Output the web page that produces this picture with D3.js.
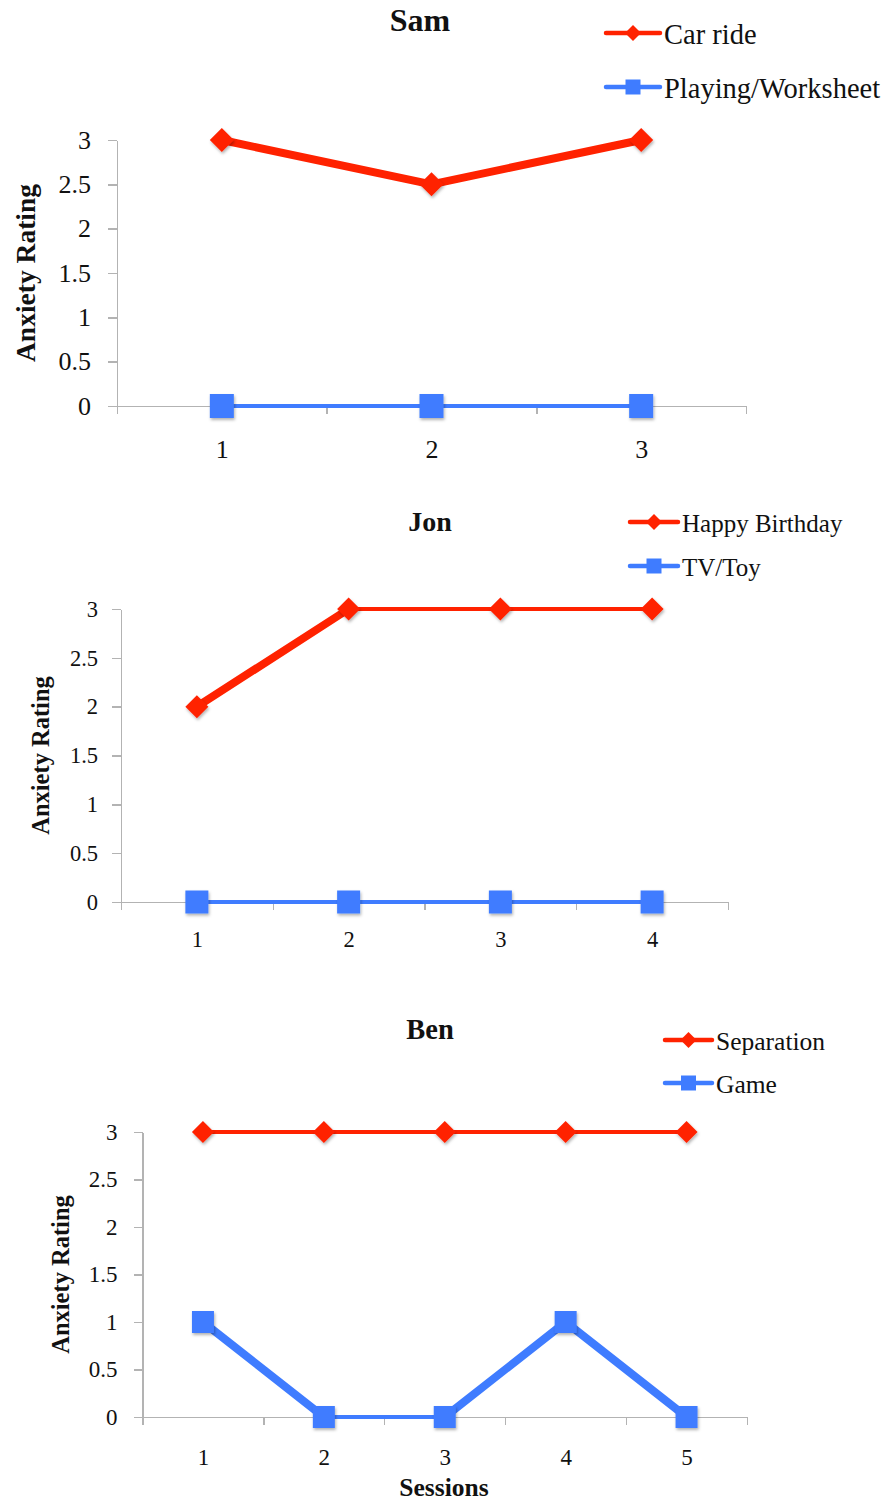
<!DOCTYPE html>
<html>
<head>
<meta charset="utf-8">
<script src="https://cdn.jsdelivr.net/npm/d3@7"></script>
<style>
  html, body { margin: 0; padding: 0; background: #fff; }
  svg { display: block; }
  text { font-family: "Liberation Serif", "Times New Roman", serif; fill: #111; }
  .axis path, .axis line { stroke: #b3b3b3; stroke-width: 1.4; shape-rendering: crispEdges; }
</style>
</head>
<body>
<svg id="chart" width="889" height="1502"></svg>
<script>
// Anxiety ratings per session for each child
const samSessions = [1, 2, 3];
const samCarRide = [3, 2.5, 3];
const samPlaying = [0, 0, 0];

const jonSessions = [1, 2, 3, 4];
const jonBirthday = [2, 3, 3, 3];
const jonTvToy = [0, 0, 0, 0];

const benSessions = [1, 2, 3, 4, 5];
const benSeparation = [3, 3, 3, 3, 3];
const benGame = [1, 0, 0, 1, 0];

const yTicks = [0, 0.5, 1, 1.5, 2, 2.5, 3];

const RED = "#ff2200";
const BLUE = "#3f7cff";
const FONT = "'Liberation Serif', 'Times New Roman', serif";

const svg = d3.select("#chart");
const defs = svg.append("defs");
defs.append("filter").attr("id", "shadow")
  .attr("x", "-50%").attr("y", "-50%").attr("width", "200%").attr("height", "200%")
  .append("feDropShadow")
  .attr("dx", 1).attr("dy", 2).attr("stdDeviation", 1.5)
  .attr("flood-color", "#000").attr("flood-opacity", 0.3);

const panels = [
  {
    title: "Sam", sessions: samSessions,
    series: [
      { name: "Car ride", values: samCarRide, color: RED, shape: "diamond" },
      { name: "Playing/Worksheet", values: samPlaying, color: BLUE, shape: "square" }
    ],
    left: 117, right: 746, top: 140, bottom: 406,
    tickFont: 26, tickPad: 17, xLabelGap: 43,
    titleX: 420, titleY: 20, titleFont: 32,
    yTitleX: 26, yTitleFont: 27.5,
    legend: { x0: 606, x1: 660, ys: [33, 87], font: 28.5 },
    marker: 24
  },
  {
    title: "Jon", sessions: jonSessions,
    series: [
      { name: "Happy Birthday", values: jonBirthday, color: RED, shape: "diamond" },
      { name: "TV/Toy", values: jonTvToy, color: BLUE, shape: "square" }
    ],
    left: 121, right: 728, top: 609, bottom: 902,
    tickFont: 22.5, tickPad: 14, xLabelGap: 38,
    titleX: 430, titleY: 522, titleFont: 28,
    yTitleX: 41, yTitleFont: 24.5,
    legend: { x0: 630, x1: 678, ys: [522, 566], font: 25 },
    marker: 23
  },
  {
    title: "Ben", sessions: benSessions,
    series: [
      { name: "Separation", values: benSeparation, color: RED, shape: "diamond" },
      { name: "Game", values: benGame, color: BLUE, shape: "square" }
    ],
    left: 142.5, right: 747, top: 1132, bottom: 1417,
    tickFont: 23, tickPad: 16, xLabelGap: 40,
    titleX: 430, titleY: 1030, titleFont: 28.5,
    yTitleX: 61, yTitleFont: 24.5,
    legend: { x0: 665, x1: 712, ys: [1040, 1083], font: 25.5 },
    marker: 22,
    xTitle: "Sessions", xTitleY: 1488, xTitleX: 444, xTitleFont: 25.5
  }
];

function markerPath(shape, size) {
  const h = size / 2;
  if (shape === "diamond") return `M0,${-h}L${h},0L0,${h}L${-h},0Z`;
  return `M${-h},${-h}H${h}V${h}H${-h}Z`;
}

panels.forEach(p => {
  const n = p.sessions.length;
  const x = d3.scaleLinear().domain([0.5, n + 0.5]).range([p.left, p.right]);
  const y = d3.scaleLinear().domain([0, 3]).range([p.bottom, p.top]);
  const g = svg.append("g");

  // y axis with outward ticks at every half point
  const yAxis = g.append("g").attr("class", "axis")
    .attr("transform", `translate(${p.left},0)`)
    .call(d3.axisLeft(y).tickValues(yTicks).tickSize(9).tickSizeOuter(0)
      .tickPadding(p.tickPad).tickFormat(d3.format("")));
  yAxis.selectAll("text").style("font-size", p.tickFont + "px")
    .attr("fill", "#111").style("font-family", FONT);

  // x axis: tick marks on category boundaries
  g.append("g").attr("class", "axis")
    .attr("transform", `translate(0,${p.bottom})`)
    .call(d3.axisBottom(x).tickValues(d3.range(0.5, n + 1, 1)).tickSize(8)
      .tickSizeOuter(0).tickFormat(""));

  // x category labels centred under each session
  const xLab = g.append("g")
    .attr("transform", `translate(0,${p.bottom})`)
    .call(d3.axisBottom(x).tickValues(p.sessions).tickSize(0)
      .tickPadding(p.xLabelGap - p.tickFont * 0.38).tickFormat(d3.format("d")));
  xLab.select(".domain").remove();
  xLab.selectAll("text").style("font-size", p.tickFont + "px")
    .attr("fill", "#111").style("font-family", FONT);

  // titles
  g.append("text").attr("x", p.titleX).attr("y", p.titleY).attr("dy", "0.33em")
    .attr("text-anchor", "middle").style("font-weight", "bold")
    .style("font-size", p.titleFont + "px").text(p.title);

  g.append("text")
    .attr("transform", `translate(${p.yTitleX},${(p.top + p.bottom) / 2}) rotate(-90)`)
    .attr("dy", "0.33em").attr("text-anchor", "middle").style("font-weight", "bold")
    .style("font-size", p.yTitleFont + "px").text("Anxiety Rating");

  if (p.xTitle) {
    g.append("text").attr("x", p.xTitleX).attr("y", p.xTitleY).attr("dy", "0.33em")
      .attr("text-anchor", "middle").style("font-weight", "bold")
      .style("font-size", p.xTitleFont + "px").text(p.xTitle);
  }

  // series: segments drawn pairwise, sloped segments heavier
  p.series.forEach(s => {
    const pts = s.values.map((v, i) => [p.sessions[i], v]);
    const sg = g.append("g");
    sg.selectAll("line").data(d3.pairs(pts)).join("line")
      .attr("x1", d => x(d[0][0])).attr("y1", d => y(d[0][1]))
      .attr("x2", d => x(d[1][0])).attr("y2", d => y(d[1][1]))
      .attr("stroke", s.color).attr("stroke-linecap", "round")
      .attr("stroke-width", d => d[0][1] === d[1][1] ? 4 : 8);
    sg.selectAll("path").data(pts).join("path")
      .attr("d", markerPath(s.shape, p.marker))
      .attr("transform", d => `translate(${x(d[0])},${y(d[1])})`)
      .attr("fill", s.color).attr("filter", "url(#shadow)");
  });

  // legend
  p.series.forEach((s, i) => {
    const ly = p.legend.ys[i];
    const lg = g.append("g");
    lg.append("line").attr("x1", p.legend.x0).attr("x2", p.legend.x1)
      .attr("y1", ly).attr("y2", ly).attr("stroke", s.color)
      .attr("stroke-width", 4.5).attr("stroke-linecap", "round");
    lg.append("path").attr("d", markerPath(s.shape, s.shape === "diamond" ? 16 : 15))
      .attr("transform", `translate(${(p.legend.x0 + p.legend.x1) / 2},${ly})`)
      .attr("fill", s.color);
    lg.append("text").attr("x", p.legend.x1 + 4).attr("y", ly + 2).attr("dy", "0.33em")
      .style("font-size", p.legend.font + "px").text(s.name);
  });
});
</script>
</body>
</html>
